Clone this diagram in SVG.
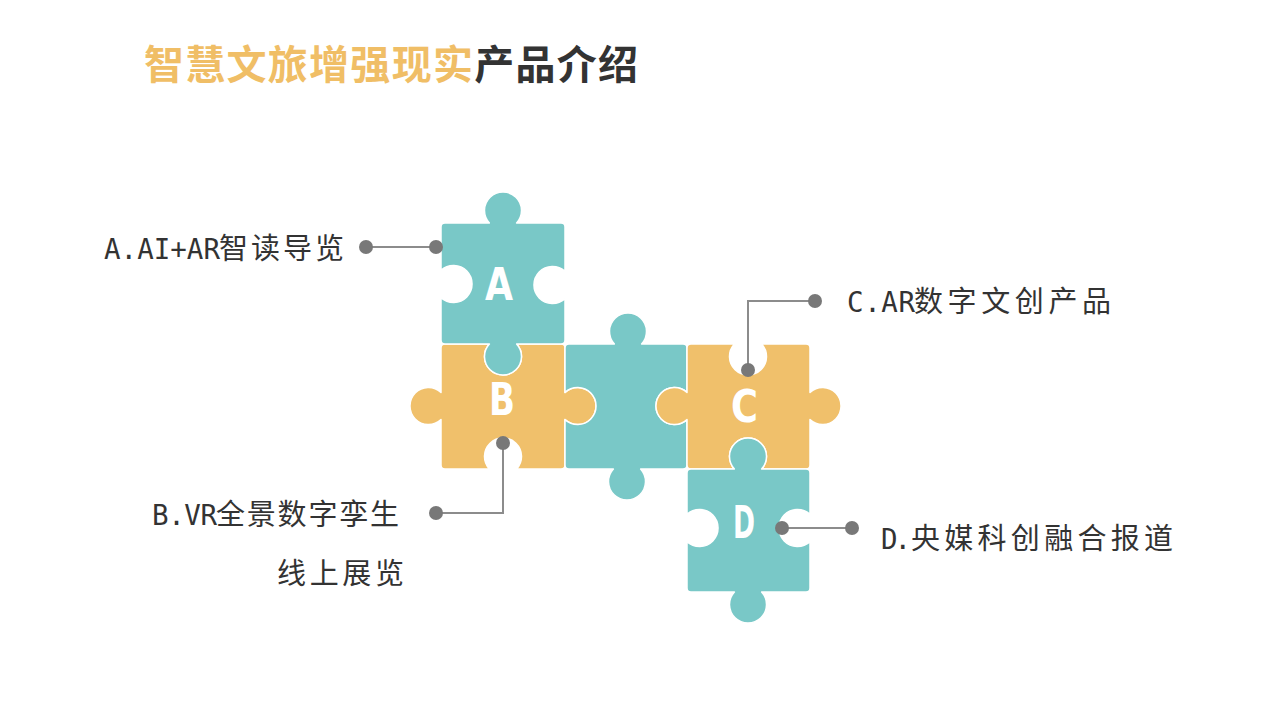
<svg xmlns="http://www.w3.org/2000/svg" width="1280" height="720" viewBox="0 0 1280 720">
<style>
.teal{fill:#79C8C7;stroke:#ffffff;stroke-width:1.5;stroke-linejoin:round}
.orange{fill:#F0C06B;stroke:#ffffff;stroke-width:1.5;stroke-linejoin:round}
.letter{font-family:"DejaVu Sans",sans-serif;font-weight:bold;font-size:44px;fill:#ffffff}
.lbl{font-family:"Noto Sans CJK SC",sans-serif;font-size:29px;fill:#333333}
.lat{font-family:"DejaVu Sans Mono",monospace;font-size:27.5px}
.line{fill:none;stroke:#8C8C8C;stroke-width:2}
.dot{fill:#787878}
.title{font-family:"Noto Sans CJK SC",sans-serif;font-weight:bold;font-size:40px}
</style>
<rect width="1280" height="720" fill="#ffffff"/>
<g id="title">
<text class="title" x="144" y="79" textLength="494" lengthAdjust="spacing"><tspan fill="#F0BE66">智慧文旅增强现实</tspan><tspan fill="#333333">产品介绍</tspan></text>
</g>
<g id="piece-b">
<path class="orange" d="M445,344 L489.4,344 A18.5,18.5 0 1 0 516.6,344 L561,344 Q565,344 565,348 L565,392.4 A18.5,18.5 0 1 1 565,419.6 L565,465 Q565,469 561,469 L516.6,469 A18.5,18.5 0 1 0 489.4,469 L445,469 Q441,469 441,465 L441,419.6 A18.5,18.5 0 1 1 441,392.4 L441,348 Q441,344 445,344 Z"/>
<text class="letter" x="489" y="415" textLength="26" lengthAdjust="spacingAndGlyphs">B</text>
</g>
<g id="piece-a">
<path class="teal" d="M445,223 L489.4,223 A18.5,18.5 0 1 1 516.6,223 L561,223 Q565,223 565,227 L565,271.4 A18.5,18.5 0 1 0 565,298.6 L565,340 Q565,344 561,344 L516.6,344 A18.5,18.5 0 1 1 489.4,344 L445,344 Q441,344 441,340 L441,297.6 A18.5,18.5 0 1 0 441,270.4 L441,227 Q441,223 445,223 Z"/>
<text class="letter" x="485" y="300" textLength="28" lengthAdjust="spacingAndGlyphs">A</text>
</g>
<g id="piece-m">
<path class="teal" d="M569,344 L614.4,344 A18.5,18.5 0 1 1 641.6,344 L683,344 Q687,344 687,348 L687,392.4 A18.5,18.5 0 1 0 687,419.6 L687,465 Q687,469 683,469 L640.6,469 A18.5,18.5 0 1 1 613.4,469 L569,469 Q565,469 565,465 L565,419.6 A18.5,18.5 0 1 0 565,392.4 L565,348 Q565,344 569,344 Z"/>
</g>
<g id="piece-c">
<path class="orange" d="M691,344 L734.4,344 A18.5,18.5 0 1 0 761.6,344 L806,344 Q810,344 810,348 L810,392.4 A18.5,18.5 0 1 1 810,419.6 L810,465 Q810,469 806,469 L761.6,469 A18.5,18.5 0 1 0 734.4,469 L691,469 Q687,469 687,465 L687,419.6 A18.5,18.5 0 1 1 687,392.4 L687,348 Q687,344 691,344 Z"/>
<text class="letter" x="731" y="422" textLength="27" lengthAdjust="spacingAndGlyphs">C</text>
</g>
<g id="piece-d">
<path class="teal" d="M691,469 L734.4,469 A18.5,18.5 0 1 1 761.6,469 L806,469 Q810,469 810,473 L810,514.4 A18.5,18.5 0 1 0 810,541.6 L810,588 Q810,592 806,592 L761.6,592 A18.5,18.5 0 1 1 734.4,592 L691,592 Q687,592 687,588 L687,541.6 A18.5,18.5 0 1 0 687,514.4 L687,473 Q687,469 691,469 Z"/>
<text class="letter" x="733" y="538" textLength="22" lengthAdjust="spacingAndGlyphs">D</text>
</g>
<g id="connectors">
<path class="line" d="M366,247 H436"/>
<circle class="dot" cx="366" cy="247" r="7"/>
<circle class="dot" cx="436" cy="247" r="7"/>
<path class="line" d="M748,370 V301 H815"/>
<circle class="dot" cx="748" cy="370" r="7"/>
<circle class="dot" cx="815" cy="301" r="7"/>
<path class="line" d="M503,443 V513 H436"/>
<circle class="dot" cx="503" cy="443" r="7"/>
<circle class="dot" cx="436" cy="513" r="7"/>
<path class="line" d="M782,528 H852"/>
<circle class="dot" cx="782" cy="528" r="7"/>
<circle class="dot" cx="852" cy="528" r="7"/>
</g>
<g id="label-a">
<text class="lbl" y="259"><tspan class="lat" x="104" textLength="116" lengthAdjust="spacing">A.AI+AR</tspan><tspan x="219" textLength="125" lengthAdjust="spacing">智读导览</tspan></text>
</g>
<g id="label-b">
<text class="lbl" y="525"><tspan class="lat" x="152" textLength="65" lengthAdjust="spacing">B.VR</tspan><tspan x="216" textLength="183" lengthAdjust="spacing">全景数字孪生</tspan></text>
<text class="lbl" x="277" y="584" textLength="127" lengthAdjust="spacing">线上展览</text>
</g>
<g id="label-c">
<text class="lbl" y="312"><tspan class="lat" x="847" textLength="68" lengthAdjust="spacing">C.AR</tspan><tspan x="914" textLength="197" lengthAdjust="spacing">数字文创产品</tspan></text>
</g>
<g id="label-d">
<text class="lbl" y="549"><tspan class="lat" x="881" textLength="30" lengthAdjust="spacing">D.</tspan><tspan x="911" textLength="262" lengthAdjust="spacing">央媒科创融合报道</tspan></text>
</g>
</svg>
